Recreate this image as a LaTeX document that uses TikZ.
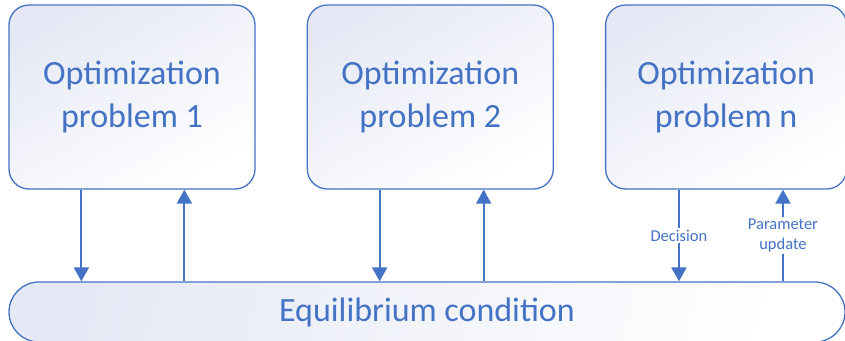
\documentclass[tikz,border=0pt]{standalone}
\usepackage{fontspec}
\setmainfont{Carlito}
\usetikzlibrary{arrows.meta,positioning}
\definecolor{mainblue}{HTML}{4472C4}
\definecolor{boxfill}{HTML}{E6E9F5}

\begin{document}
\begin{tikzpicture}[x=1pt,y=1pt,
		prob/.style={draw=mainblue, line width=1.3pt, rounded corners=20pt,
			top color=boxfill, bottom color=white, shading angle=30,
			minimum width=246pt, minimum height=184pt, align=center,
			text=mainblue, font=\fontsize{34}{43}\selectfont},
		cond/.style={draw=mainblue, line width=1.3pt, rounded corners=30pt,
			top color=boxfill, bottom color=white, shading angle=75,
			minimum width=836pt, minimum height=60pt,
			text=mainblue, font=\fontsize{34}{43}\selectfont},
		flow/.style={draw=mainblue, line width=2pt, -{Triangle[width=15pt,length=14pt]}},
		lbl/.style={fill=white, inner sep=2pt, align=center, text=mainblue,
			font=\fontsize{16.5}{20}\selectfont}]
		\clip (0,0) rectangle (845,-340);
		
		% problems
		\node[prob] (p1) at (132,-97) {Optimization\\problem 1};
		\node[prob, right = 51pt of p1] (p2) {Optimization\\problem 2};
		\node[prob, minimum width=241pt, right = 51pt of p2] (pn) {Optimization\\problem n};
		
		% condition
		\node[cond] (eq) at (427,-312) {Equilibrium condition};
		
		% arrows
		\draw[flow] ([xshift=73pt]p1.south west) -- ([xshift=73pt]p1.south west |- eq.north);
		\draw[flow] ([xshift=176pt]p1.south west |- eq.north) -- ([xshift=176pt]p1.south west);
		\draw[flow] ([xshift=73pt]p2.south west) -- ([xshift=73pt]p2.south west |- eq.north);
		\draw[flow] ([xshift=177pt]p2.south west |- eq.north) -- ([xshift=177pt]p2.south west);
		\draw[flow] ([xshift=74pt]pn.south west) -- node[lbl] {Decision} ([xshift=74pt]pn.south west |- eq.north);
		\draw[flow] ([xshift=178pt]pn.south west |- eq.north) -- node[lbl] {Parameter\\update} ([xshift=178pt]pn.south west);
\end{tikzpicture}
\end{document}
